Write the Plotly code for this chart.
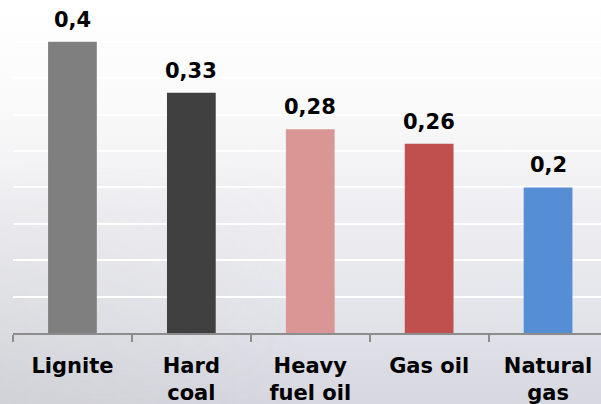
import base64
import plotly.graph_objects as go

categories = ["Lignite", "Hard<br>coal", "Heavy<br>fuel oil", "Gas oil", "Natural<br>gas"]
values = [0.4, 0.33, 0.28, 0.26, 0.2]
colors = ["#7f7f7f", "#404040", "#d99694", "#c0504d", "#558ed5"]
labels = [str(v).replace(".", ",") for v in values]

W, H = 601, 404
ML, MR, MT, MB = 13, 0, 0, 71

svg = f'''<svg xmlns="http://www.w3.org/2000/svg" width="{W}" height="{H}" preserveAspectRatio="none">
<defs>
<linearGradient id="g" x1="0" y1="0" x2="0" y2="1">
<stop offset="0" stop-color="#ffffff"/>
<stop offset="0.25" stop-color="#fafafa"/>
<stop offset="0.55" stop-color="#ededf1"/>
<stop offset="0.8" stop-color="#e2e3e9"/>
<stop offset="1" stop-color="#d6d7df"/>
</linearGradient>
<linearGradient id="h" x1="0" y1="0" x2="1" y2="0">
<stop offset="0" stop-color="#c8c8c8" stop-opacity="0.35"/>
<stop offset="0.5" stop-color="#c8c8c8" stop-opacity="0"/>
</linearGradient>
<linearGradient id="v" x1="0" y1="0" x2="0" y2="1">
<stop offset="0" stop-color="#fff" stop-opacity="0"/>
<stop offset="0.4" stop-color="#fff" stop-opacity="0"/>
<stop offset="1" stop-color="#fff" stop-opacity="1"/>
</linearGradient>
<mask id="m"><rect width="{W}" height="{H}" fill="url(#v)"/></mask>
</defs>
<rect width="{W}" height="{H}" fill="url(#g)"/>
<rect width="{W}" height="{H}" fill="url(#h)" mask="url(#m)"/>
</svg>'''
src = "data:image/svg+xml;base64," + base64.b64encode(svg.encode()).decode()

pw = W - ML - MR
ph = H - MT - MB

fig = go.Figure()
fig.add_trace(go.Bar(
    x=categories, y=values, marker=dict(color=colors, line=dict(width=0)),
    width=0.41, hoverinfo="skip",
))
for c, v, t in zip(categories, values, labels):
    fig.add_annotation(x=c, y=v, text=t, showarrow=False, yanchor="bottom", yshift=8,
                       font=dict(family="DejaVu Sans", size=21, color="#000000", weight="bold"))

fig.add_layout_image(dict(
    source=src, xref="paper", yref="paper",
    x=-ML / pw, y=1 + MT / ph, sizex=W / pw, sizey=H / ph,
    xanchor="left", yanchor="top", sizing="stretch", layer="below",
))

fig.update_layout(
    width=W, height=H,
    margin=dict(l=ML, r=MR, t=MT, b=MB, pad=0),
    paper_bgcolor="#ffffff", plot_bgcolor="rgba(0,0,0,0)",
    showlegend=False, bargap=0.59,
    font=dict(family="DejaVu Sans", color="#000000"),
    xaxis=dict(
        range=[-0.5, -0.5 + pw / 118.9], showline=True, linecolor="#8c8c8c", linewidth=1.5,
        ticks="outside", tickson="boundaries", ticklen=7, tickcolor="#8c8c8c", tickwidth=1.5,
        tickfont=dict(family="DejaVu Sans", size=21, color="#000000", weight="bold"),
        showgrid=False, zeroline=False, fixedrange=True, ticklabelstandoff=13,
    ),
    yaxis=dict(
        range=[0, 0.4574], dtick=0.05, tick0=0, showticklabels=False, showline=False,
        showgrid=True, gridcolor="#ffffff", gridwidth=2, zeroline=False, fixedrange=True,
    ),
)

fig.write_html("out.html")
